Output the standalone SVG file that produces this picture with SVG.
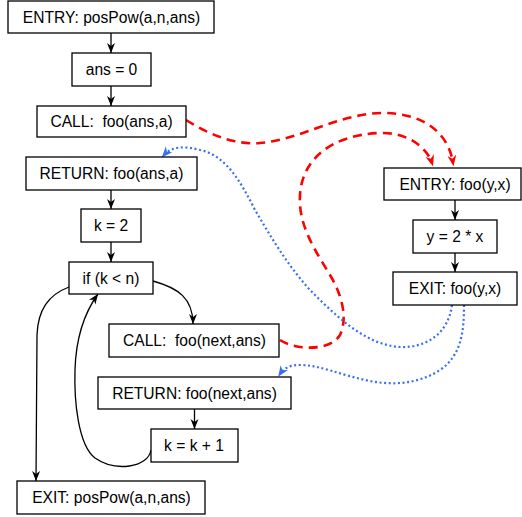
<svg xmlns="http://www.w3.org/2000/svg" width="522" height="517" viewBox="0 0 522 517">
<style>
.box{fill:#fff;stroke:#000;stroke-width:1.3}
.lbl{font-family:"Liberation Sans",Arial,sans-serif;font-size:15.6px;fill:#000;text-anchor:middle}
.flow{fill:none;stroke:#000;stroke-width:1.3}
.call{fill:none;stroke:#ff0000;stroke-width:2.6;stroke-dasharray:9,6}
.ret{fill:none;stroke:#3a6ff0;stroke-width:2.2;stroke-dasharray:2,2.6}
</style>
<defs>
<marker id="ab" viewBox="0 0 10 10" refX="10" refY="5" markerWidth="10" markerHeight="10" markerUnits="userSpaceOnUse" orient="auto"><path d="M0,1 L10,5 L0,9 L3,5 Z" fill="#000"/></marker>
<marker id="ar" viewBox="0 0 10 10" refX="7" refY="5" markerWidth="11" markerHeight="11" markerUnits="userSpaceOnUse" orient="auto"><path d="M0,1 L10,5 L0,9 L3,5 Z" fill="#ff0000"/></marker>
<marker id="abl" viewBox="0 0 10 10" refX="7" refY="5" markerWidth="11" markerHeight="11" markerUnits="userSpaceOnUse" orient="auto"><path d="M0,1 L10,5 L0,9 L3,5 Z" fill="#3a6ff0"/></marker>
</defs>
<g id="connectors">
<path class="flow" d="M111,33 L111,53" marker-end="url(#ab)"/>
<path class="flow" d="M111,86 L111,106" marker-end="url(#ab)"/>
<path class="flow" d="M111,190 L111,209" marker-end="url(#ab)"/>
<path class="flow" d="M111,242 L111,262" marker-end="url(#ab)"/>
<path class="flow" d="M194.5,409 L194.5,429" marker-end="url(#ab)"/>
<path class="flow" d="M455,200 L455,220" marker-end="url(#ab)"/>
<path class="flow" d="M455,253 L455,272" marker-end="url(#ab)"/>
<path class="flow" d="M153,281 C178,288 193,298 193,324" marker-end="url(#ab)"/>
<path class="flow" d="M69,287 C48,295 38,310 37,335 L36,481" marker-end="url(#ab)"/>
<path class="flow" d="M151,450 C148,468 115,472 95,458 C78,445 74,400 75,370 C76,335 85,312 98,294" marker-end="url(#ab)"/>
<path class="call" d="M186,120 C210,135 235,145 260,143 C300,140 340,113 383,113 C420,113 448,130 453,163" marker-end="url(#ar)"/>
<path class="call" d="M280,340 C295,350 330,352 340,335 C348,318 342,295 330,275 C315,250 298,225 300,195 C302,160 330,135 380,133 C410,132 428,150 432,163" marker-end="url(#ar)"/>
<path class="ret" d="M452,305 C448,335 425,348 400,347 C365,345 335,315 310,290 C285,262 270,235 255,210 C240,180 225,155 200,150 C185,146 172,146 164,155" marker-end="url(#abl)"/>
<path class="ret" d="M464,305 C464,330 462,355 440,370 C420,383 395,386 370,381 C340,375 320,365 300,365 C290,365 284,368 280,374" marker-end="url(#abl)"/>
</g>
<g id="n1"><rect class="box" x="8" y="1" width="206" height="32"/><text class="lbl" x="111.5" y="22.5">ENTRY: posPow(a,n,ans)</text></g>
<g id="n2"><rect class="box" x="72" y="53" width="79" height="33"/><text class="lbl" x="111.5" y="75">ans = 0</text></g>
<g id="n3"><rect class="box" x="37" y="106" width="149" height="31"/><text class="lbl" x="111.5" y="127">CALL:&#160; foo(ans,a)</text></g>
<g id="n4"><rect class="box" x="26" y="157" width="171" height="33"/><text class="lbl" x="111.5" y="179">RETURN: foo(ans,a)</text></g>
<g id="n5"><rect class="box" x="81" y="209" width="60" height="33"/><text class="lbl" x="111" y="231">k = 2</text></g>
<g id="n6"><rect class="box" x="69" y="262" width="84" height="32"/><text class="lbl" x="111" y="283.5">if (k &lt; n)</text></g>
<g id="n7"><rect class="box" x="109" y="324" width="170" height="33"/><text class="lbl" x="194.5" y="346">CALL:&#160; foo(next,ans)</text></g>
<g id="n8"><rect class="box" x="98" y="377" width="193" height="32"/><text class="lbl" x="194.5" y="398.5">RETURN: foo(next,ans)</text></g>
<g id="n9"><rect class="box" x="151" y="429" width="87" height="33"/><text class="lbl" x="194" y="451">k = k + 1</text></g>
<g id="n10"><rect class="box" x="17" y="481" width="188" height="33"/><text class="lbl" x="111.5" y="503">EXIT: posPow(a,n,ans)</text></g>
<g id="n11"><rect class="box" x="384" y="168" width="137" height="32"/><text class="lbl" x="455" y="189.5">ENTRY: foo(y,x)</text></g>
<g id="n12"><rect class="box" x="413" y="220" width="84" height="33"/><text class="lbl" x="455" y="242">y = 2 * x</text></g>
<g id="n13"><rect class="box" x="393" y="272" width="124" height="33"/><text class="lbl" x="455" y="294">EXIT: foo(y,x)</text></g>
</svg>
